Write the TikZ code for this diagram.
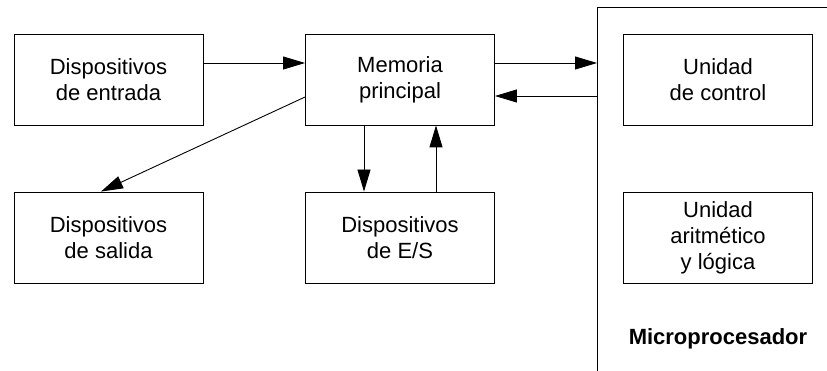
\documentclass[tikz,border=0pt]{standalone}
\usepackage{fontspec}
\setmainfont{Liberation Sans}
\usetikzlibrary{arrows.meta}

\begin{document}
\begin{tikzpicture}
[x=1pt,y=-1pt,line width=0.9pt,
 caja/.style={draw,minimum width=189pt,minimum height=91pt,inner sep=0pt,align=center,font=\fontsize{22}{26}\selectfont},
 flecha/.style={-{Triangle[length=22pt,width=13pt]}}] % opciones
\useasboundingbox (0,0) rectangle (827,371);
\node[caja] (entrada) at (108.5,79.5) {Dispositivos\\de entrada}; % fila 1
\node[caja] (memoria) at (400,79.5) {Memoria\\principal};
\node[caja] (control) at (718,79.5) {Unidad\\de control};
\node[caja] (salida) at (108.5,237.5) {Dispositivos\\de salida}; % fila 2
\node[caja] (es) at (400,237.5) {Dispositivos\\de E/S};
\node[caja] (alu) at (718,237.5) {Unidad\\aritmético\\y lógica};
\node[font=\fontsize{22}{26}\selectfont\bfseries] (micro) at (718,339) {Microprocesador};
\coordinate (mp) at (597,7); % microprocesador
\coordinate (m1) at (597,63);
\coordinate (m2) at (597,96);
\draw (827,7) -- (mp) -- (597,371);
\draw[flecha] ([yshift=16.5pt]entrada.east) -- ([yshift=16.5pt]memoria.west); % flechas
\draw[flecha] ([yshift=16.5pt]memoria.east) -- (m1);
\draw[flecha] (m2) -- ([yshift=-16.5pt]memoria.east);
\draw[flecha] ([yshift=-17.5pt]memoria.west) -- ([xshift=-7.5pt]salida.north);
\draw[flecha] ([xshift=-36pt]memoria.south) -- ([xshift=-36pt]es.north);
\draw[flecha] ([xshift=36pt]es.north) -- ([xshift=36pt]memoria.south);
\end{tikzpicture}
\end{document}
